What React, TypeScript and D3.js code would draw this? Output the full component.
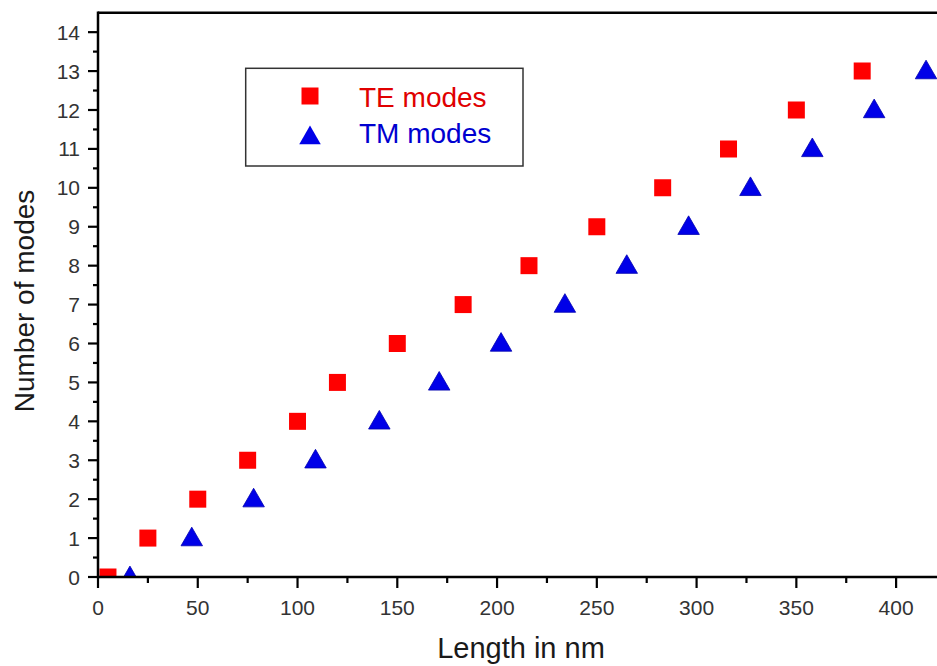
import React from "react";
import * as d3 from "d3";

const teModes = [0, 1, 2, 3, 4, 5, 6, 7, 8, 9, 10, 11, 12, 13];
const teLength = [5, 25, 50, 75, 100, 120, 150, 183, 216, 250, 283, 316, 350, 383];
const tmModes = [0, 1, 2, 3, 4, 5, 6, 7, 8, 9, 10, 11, 12, 13];
const tmLength = [16, 47, 78, 109, 141, 171, 202, 234, 265, 296, 327, 358, 389, 415];
const xTicks = [0, 50, 100, 150, 200, 250, 300, 350, 400];
const yTicks = [0, 1, 2, 3, 4, 5, 6, 7, 8, 9, 10, 11, 12, 13, 14];
const legendLabels = ["TE modes", "TM modes"];

const W = 937;
const H = 666;
const FONT = "'Liberation Sans', Arial, sans-serif";

export default function App() {
  const left = 98;
  const right = 946;
  const top = 12.7;
  const bottom = 577;
  const x = d3.scaleLinear().domain([0, 425]).range([left, right]);
  const y = d3.scaleLinear().domain([0, 14.5]).range([bottom, top]);

  const sq = d3.symbol().type(d3.symbolSquare).size(17 * 17);
  const triSide = 21.5;
  const tri = d3
    .symbol()
    .type(d3.symbolTriangle)
    .size((Math.sqrt(3) / 4) * triSide * triSide);

  const xMinor = d3.range(25, 425, 50);
  const yMinor = d3.range(0.5, 14.5, 1);

  const red = "#ff0000";
  const blue = "#0000e8";

  return (
    <svg
      width={W}
      height={H}
      style={{ position: "absolute", left: 0, top: 0, background: "#fff" }}
      fontFamily={FONT}
    >
      <rect x={0} y={0} width={W} height={H} fill="#fff" />
      <defs>
        <clipPath id="plotClip">
          <rect x={left} y={top} width={right - left} height={bottom - top} />
        </clipPath>
      </defs>

      {/* markers */}
      <g clipPath="url(#plotClip)">
        {teLength.map((l, i) => (
          <path
            key={"te" + i}
            d={sq() as string}
            transform={`translate(${x(l)},${y(teModes[i])})`}
            fill={red}
          />
        ))}
        {tmLength.map((l, i) => (
          <path
            key={"tm" + i}
            d={tri() as string}
            transform={`translate(${x(l)},${y(tmModes[i]) + 1.5})`}
            fill={blue}
            stroke="#0000b0"
            strokeWidth={0.8}
          />
        ))}
      </g>

      {/* axes */}
      <line x1={left} x2={W} y1={top} y2={top} stroke="#000" strokeWidth={2.5} />
      <line x1={left} x2={W} y1={bottom} y2={bottom} stroke="#000" strokeWidth={2.5} />
      <line x1={left} x2={left} y1={top - 1.2} y2={bottom + 1.2} stroke="#000" strokeWidth={2.5} />

      {xTicks.map((t) => (
        <g key={"xt" + t}>
          <line x1={x(t)} x2={x(t)} y1={bottom} y2={bottom + 11} stroke="#000" strokeWidth={2.2} />
          <text x={x(t)} y={615} textAnchor="middle" fontSize={21} fill="#333">
            {t}
          </text>
        </g>
      ))}
      {xMinor.map((t) => (
        <line key={"xm" + t} x1={x(t)} x2={x(t)} y1={bottom} y2={bottom + 6} stroke="#000" strokeWidth={2.2} />
      ))}
      {yTicks.map((t) => (
        <g key={"yt" + t}>
          <line x1={left - 10} x2={left} y1={y(t)} y2={y(t)} stroke="#000" strokeWidth={2.2} />
          <text x={80} y={y(t)} dy="0.36em" textAnchor="end" fontSize={21} fill="#333">
            {t}
          </text>
        </g>
      ))}
      {yMinor.map((t) => (
        <line key={"ym" + t} x1={left - 5} x2={left} y1={y(t)} y2={y(t)} stroke="#000" strokeWidth={2.2} />
      ))}

      {/* axis titles */}
      <text x={521} y={658} textAnchor="middle" fontSize={29} fill="#1a1a1a">
        Length in nm
      </text>
      <text
        transform="translate(33.5,301) rotate(-90)"
        textAnchor="middle"
        fontSize={28}
        fill="#1a1a1a"
      >
        Number of modes
      </text>

      {/* legend */}
      <rect x={245.7} y={68.3} width={277.3} height={97.7} fill="#fff" stroke="#333" strokeWidth={1.5} />
      <path d={sq() as string} transform="translate(310,96)" fill={red} />
      <path d={tri() as string} transform="translate(310,138)" fill={blue} />
      <text x={359} y={106.5} fontSize={28} fill="#e00000">
        {legendLabels[0]}
      </text>
      <text x={359} y={143.3} fontSize={28} fill="#0000d0">
        {legendLabels[1]}
      </text>
    </svg>
  );
}
